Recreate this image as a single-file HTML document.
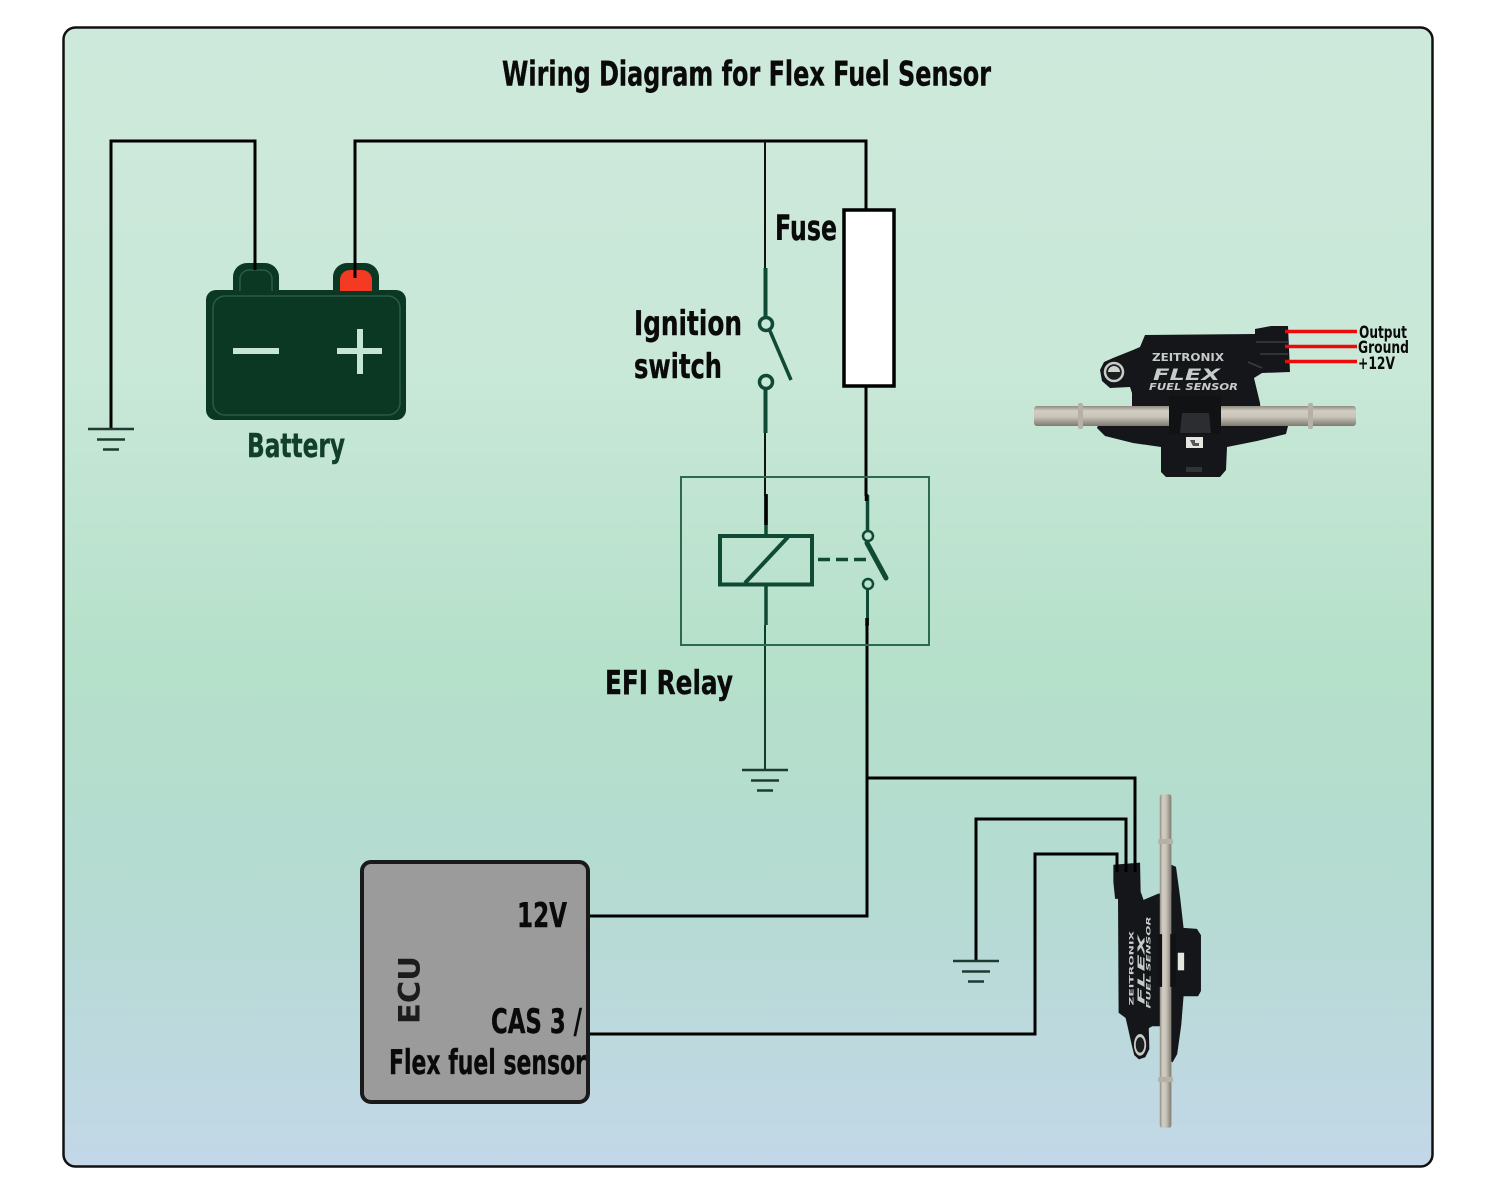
<!DOCTYPE html>
<html><head><meta charset="utf-8"><style>
html,body{margin:0;padding:0;background:#fff}
svg{display:block}
text{font-family:"DejaVu Sans","Liberation Sans",sans-serif;font-weight:bold;fill:#0a0a0a}
.b{stroke:#0a0a0a;stroke-width:.4px}
</style></head><body>
<svg xmlns="http://www.w3.org/2000/svg" width="1500" height="1200" viewBox="0 0 1500 1200">
<defs>
<linearGradient id="bg" x1="0" y1="0" x2="0" y2="1">
<stop offset="0" stop-color="#cde9db"/><stop offset=".3" stop-color="#c9e8d8"/><stop offset=".56" stop-color="#b5e0ca"/><stop offset=".76" stop-color="#b5dbd2"/><stop offset="1" stop-color="#c3d7e8"/>
</linearGradient>
<linearGradient id="tube" x1="0" y1="0" x2="0" y2="1">
<stop offset="0" stop-color="#8f8b80"/><stop offset=".25" stop-color="#d2cec4"/><stop offset=".55" stop-color="#c8c3b8"/><stop offset="1" stop-color="#7e7a70"/>
</linearGradient>
</defs>
<rect x="63.5" y="27.5" width="1369" height="1139" rx="12" fill="url(#bg)" stroke="#111" stroke-width="2.5"/>
<text class="b" x="502" y="85.500" font-size="34" textLength="489" lengthAdjust="spacingAndGlyphs">Wiring Diagram for Flex Fuel Sensor</text>

<!-- battery -->
<path d="M233 292V277a14 14 0 0 1 14-14h18a14 14 0 0 1 14 14v15zM333 292V277a14 14 0 0 1 14-14h18a14 14 0 0 1 14 14v15z" fill="#0a3822"/>
<rect x="206" y="290" width="200" height="130" rx="10" fill="#0a3822"/>
<rect x="213" y="296" width="187" height="119" rx="12" fill="none" stroke="#2b5b46" stroke-width="1.500"/>
<path d="M240 291V279a9 9 0 0 1 9-9h14a9 9 0 0 1 9 9v12" fill="none" stroke="#2b5b46" stroke-width="1.500"/>
<path d="M340 291V280a10 10 0 0 1 10-10h12a10 10 0 0 1 10 10v11z" fill="#f43a22"/>
<path d="M233 351h46M337 351h45M360 329v45" stroke="#c5e5d5" stroke-width="6" fill="none"/>
<text x="247" y="457" font-size="33" style="fill:#123f2b;stroke:#123f2b;stroke-width:.4px" textLength="98" lengthAdjust="spacingAndGlyphs">Battery</text>

<!-- wires -->
<path d="M111 430V141H255V270" fill="none" stroke="#000" stroke-width="3"/>
<path d="M355 278V141H866V210" fill="none" stroke="#000" stroke-width="3"/>
<path d="M765 141V270" fill="none" stroke="#111" stroke-width="2"/>
<path d="M866 386V496" fill="none" stroke="#000" stroke-width="3"/>
<path d="M765 432V496" fill="none" stroke="#111" stroke-width="2"/>
<path d="M765 625V770" fill="none" stroke="#0e3d2a" stroke-width="2"/>
<path d="M867 622V916H589" fill="none" stroke="#000" stroke-width="3"/>
<path d="M867 778H1135V866" fill="none" stroke="#000" stroke-width="3"/>
<path d="M976 961V819H1126V866" fill="none" stroke="#000" stroke-width="3"/>
<path d="M589 1034H1035V854H1117V866" fill="none" stroke="#000" stroke-width="3"/>

<!-- ground -->
<g fill="none" stroke="#1d3b30" stroke-width="2.500">
<path d="M88 429h46M97 439.500h28M103 449.500h16"/>
<path d="M742 770h46M751 780.500h28M757 790.500h16"/>
<path d="M953 961h46M962 971.500h28M968 981.500h16"/>
</g>

<!-- fuse -->
<rect x="844" y="210" width="50" height="176" fill="#fff" stroke="#000" stroke-width="3.500"/>
<text class="b" x="775" y="240" font-size="35" textLength="62" lengthAdjust="spacingAndGlyphs">Fuse</text>

<!-- ignition -->
<g fill="none" stroke="#0f4a35">
<path d="M765.500 268V317" stroke-width="4"/>
<circle cx="766" cy="324" r="6.500" stroke-width="3.500"/>
<path d="M770 331L791 380" stroke-width="3.500"/>
<circle cx="766" cy="382" r="6.500" stroke-width="3.500"/>
<path d="M765.500 389V433" stroke-width="4"/>
</g>
<text class="b" x="634" y="335" font-size="34" textLength="108" lengthAdjust="spacingAndGlyphs">Ignition</text>
<text class="b" x="634" y="378" font-size="34" textLength="88" lengthAdjust="spacingAndGlyphs">switch</text>

<!-- relay -->
<rect x="681" y="477" width="248" height="168" fill="none" stroke="#2b6a4e" stroke-width="2"/>
<g fill="none" stroke="#0f4a35">
<rect x="720" y="536" width="92" height="48.500" stroke-width="4"/>
<path d="M788 537L745 583" stroke-width="4"/>
<path d="M766 495V535M766 586V625" stroke-width="3.500"/>
<path d="M818 559.500H866" stroke-width="3.500" stroke-dasharray="12 6"/>
<path d="M867.500 495V530" stroke-width="3.500"/>
<circle cx="868" cy="536" r="5" stroke-width="2.500"/>
<path d="M867 543L886 578" stroke-width="5" stroke-linecap="round"/>
<circle cx="868" cy="584" r="5" stroke-width="2.500"/>
<path d="M867.500 590V625" stroke-width="3"/>
</g>
<path d="M766 494V525M866.500 494V501M867 618V626" stroke="#000" stroke-width="3.500" fill="none"/>
<text class="b" x="605" y="694" font-size="33" textLength="128" lengthAdjust="spacingAndGlyphs">EFI Relay</text>

<!-- ECU -->
<rect x="362" y="862" width="226" height="240" rx="9" fill="#9b9b9b" stroke="#1a1a1a" stroke-width="4"/>
<text class="b" x="517" y="927" font-size="34" textLength="50" lengthAdjust="spacingAndGlyphs">12V</text>
<text class="b" x="491" y="1033" font-size="34" textLength="91" lengthAdjust="spacingAndGlyphs">CAS 3 /</text>
<text class="b" x="389" y="1074" font-size="34" textLength="197" lengthAdjust="spacingAndGlyphs">Flex fuel sensor</text>
<text transform="translate(419.500 1024) rotate(-90)" x="0" y="0" font-size="29" textLength="68" lengthAdjust="spacingAndGlyphs" style="fill:#1c1c1c">ECU</text>

<!-- horizontal sensor -->
<g>
<path d="M1145 335L1255 334V329L1271 326H1288L1290 372L1262 373L1254 378L1260 403L1262 426H1288L1286 434L1257 441L1227 447L1226 470L1220 477H1166L1161 472V447L1133 443L1105 436L1097 428L1100 420L1132 413V393L1130 387L1110 388L1102 381L1100 370L1104 362L1113 358L1133 350L1140 347Z" fill="#14161a"/>
<circle cx="1114" cy="372" r="9" fill="#1c1e20" stroke="#c7cdc6" stroke-width="2.500"/>
<path d="M1108 372a6 6 0 0 1 12 0z" fill="#cfd5cd"/>
<path d="M1256 342h32M1260 354h28M1248 362l14 6" stroke="#3a3d40" stroke-width="1.500" fill="none"/>
<text x="1152" y="361" style="fill:#c6ccc8" font-size="11" textLength="72" lengthAdjust="spacingAndGlyphs">ZEITRONIX</text>
<text x="1153" y="380" style="font-style:italic;fill:#c6ccc8" font-size="16" textLength="67" lengthAdjust="spacingAndGlyphs">FLEX</text>
<text x="1149" y="390" style="font-style:italic;fill:#c6ccc8" font-size="10" textLength="89" lengthAdjust="spacingAndGlyphs">FUEL SENSOR</text>
<rect x="1034" y="406" width="322" height="20" rx="3" fill="url(#tube)"/>
<rect x="1078" y="403" width="5" height="26" rx="2" fill="#b5b1a6"/>
<rect x="1308" y="403" width="5" height="26" rx="2" fill="#b5b1a6"/>
<path d="M1169 396H1221V434H1169Z" fill="#101214"/>
<path d="M1182 413h27l2 20h-31z" fill="#2b2d30"/>
<rect x="1186" y="437" width="17" height="11" fill="#e6e6e0"/>
<path d="M1190 440h5v3h4v3h-6z" fill="#555"/>
<rect x="1186" y="467" width="16" height="5" fill="#333"/>
<path d="M1285 331.500H1357M1285 346.500H1357M1285 361.500H1357" stroke="#ee0a0a" stroke-width="3.500" fill="none"/>
<text x="1359" y="338" font-size="17" textLength="48" lengthAdjust="spacingAndGlyphs">Output</text>
<text x="1358" y="353" font-size="17" textLength="51" lengthAdjust="spacingAndGlyphs">Ground</text>
<text x="1358" y="369" font-size="17" textLength="37" lengthAdjust="spacingAndGlyphs">+12V</text>
</g>

<!-- vertical sensor -->
<g transform="translate(1165 961) rotate(-90) scale(1.035 .58) translate(-1195 -415)">
<path d="M1145 335L1255 334V329L1271 326H1288L1290 372L1262 373L1254 378L1260 403L1262 426H1288L1286 434L1257 441L1227 447L1226 470L1220 477H1166L1161 472V447L1133 443L1105 436L1097 428L1100 420L1132 413V393L1130 387L1110 388L1102 381L1100 370L1104 362L1113 358L1133 350L1140 347Z" fill="#14161a"/>
<circle cx="1114" cy="372" r="9" fill="#1c1e20" stroke="#c7cdc6" stroke-width="3"/>
<text x="1152" y="361" style="fill:#c6ccc8" font-size="11" textLength="72" lengthAdjust="spacingAndGlyphs">ZEITRONIX</text>
<text x="1153" y="380" style="font-style:italic;fill:#c6ccc8" font-size="16" textLength="67" lengthAdjust="spacingAndGlyphs">FLEX</text>
<text x="1149" y="390" style="font-style:italic;fill:#c6ccc8" font-size="10" textLength="89" lengthAdjust="spacingAndGlyphs">FUEL SENSOR</text>
<rect x="1034" y="406" width="322" height="20" rx="3" fill="url(#tube)"/>
<rect x="1078" y="403" width="5" height="26" rx="2" fill="#b5b1a6"/>
<rect x="1308" y="403" width="5" height="26" rx="2" fill="#b5b1a6"/>
<path d="M1170 402H1221V410H1170ZM1170 424H1221V434H1170Z" fill="#101214"/>
<rect x="1186" y="437" width="17" height="11" fill="#e6e6e0"/>
</g>
<path d="M1117 853V872M1126 853V872M1135 853V872" stroke="#000" stroke-width="3" fill="none"/>
</svg>
</body></html>
